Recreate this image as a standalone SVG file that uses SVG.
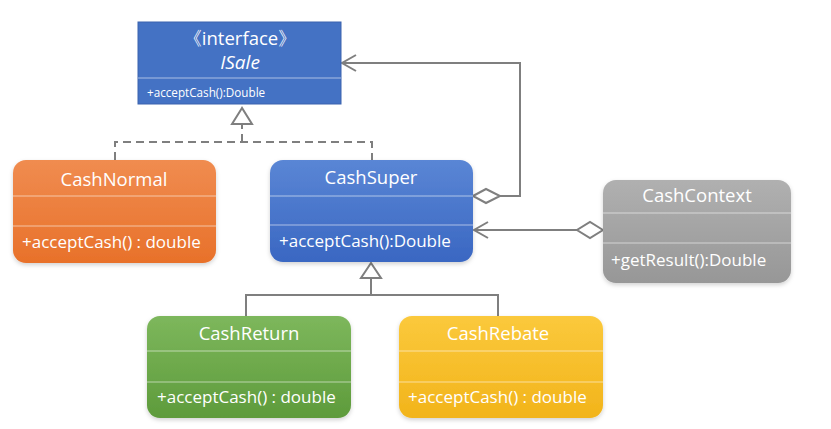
<svg xmlns="http://www.w3.org/2000/svg" width="831" height="429" viewBox="0 0 831 429">
<defs>
<linearGradient id="gBlue" x1="0" y1="0" x2="0" y2="1"><stop offset="0" stop-color="#5A86D5"/><stop offset="1" stop-color="#3A67C2"/></linearGradient>
<linearGradient id="gOrange" x1="0" y1="0" x2="0" y2="1"><stop offset="0" stop-color="#F08C50"/><stop offset="1" stop-color="#E8712A"/></linearGradient>
<linearGradient id="gGray" x1="0" y1="0" x2="0" y2="1"><stop offset="0" stop-color="#B0B0B0"/><stop offset="1" stop-color="#979797"/></linearGradient>
<linearGradient id="gGreen" x1="0" y1="0" x2="0" y2="1"><stop offset="0" stop-color="#7DB75C"/><stop offset="1" stop-color="#5E9B3B"/></linearGradient>
<linearGradient id="gYellow" x1="0" y1="0" x2="0" y2="1"><stop offset="0" stop-color="#FBC93C"/><stop offset="1" stop-color="#F2B41B"/></linearGradient>
<filter id="sh" x="-10%" y="-10%" width="120%" height="130%"><feDropShadow dx="0" dy="2" stdDeviation="2" flood-color="#000" flood-opacity="0.18"/></filter>
</defs>
<style>
text{font-family:"Open Sans","Noto Sans","Liberation Sans",sans-serif;fill:#fff}
.title{font-size:18.5px;text-anchor:middle}
.meth{font-size:17px}
.div{stroke:#fff;stroke-opacity:0.55;stroke-width:1}
.con{fill:none;stroke:#7F7F7F;stroke-width:2}
.dash{stroke-dasharray:8 5}
.head{fill:#fff;stroke:#7F7F7F;stroke-width:2}
</style>
<rect width="831" height="429" fill="#fff"/>
<g id="connectors">
<polyline class="con dash" points="115,160 115,142 372,142 372,160"/>
<line class="con dash" x1="242" y1="142" x2="242" y2="124"/>
<polygon class="head" points="242,108 232,124 252,124"/>
<polyline class="con" points="500,196 520,196 520,63 342,63"/>
<polyline class="con" points="356,55 342,63 356,71"/>
<polygon class="head" points="473,196 486,189 500,196 486,203"/>
<line class="con" x1="577" y1="230" x2="474" y2="230"/>
<polyline class="con" points="488,222 474,230 488,238"/>
<polygon class="head" points="603,230 590,222 577,230 590,238"/>
<polyline class="con" points="246,316 246,295 498,295 498,316"/>
<line class="con" x1="371" y1="295" x2="371" y2="278"/>
<polygon class="head" points="371,263 361,278 381,278"/>
</g>
<g id="ISale">
<rect x="138" y="22" width="203" height="82" fill="#4472C4" stroke="#3A63AE" stroke-width="1"/>
<line class="div" x1="138" y1="78" x2="341" y2="78"/>
<text x="240" y="45" style="font-size:18.5px;text-anchor:middle">《interface》</text>
<text x="240" y="69" style="font-size:19px;text-anchor:middle;font-style:italic">ISale</text>
<text x="147" y="97" style="font-size:11.7px">+acceptCash():Double</text>
</g>
<g id="CashNormal">
<rect x="13" y="160" width="203" height="103" rx="13" fill="url(#gOrange)" filter="url(#sh)"/>
<line class="div" x1="13" y1="196" x2="216" y2="196"/>
<line class="div" x1="13" y1="226" x2="216" y2="226"/>
<text class="title" x="114" y="186">CashNormal</text>
<text class="meth" x="22" y="248">+acceptCash() : double</text>
</g>
<g id="CashSuper">
<rect x="270" y="160" width="203" height="102" rx="13" fill="url(#gBlue)" filter="url(#sh)"/>
<line class="div" x1="270" y1="196" x2="473" y2="196"/>
<line class="div" x1="270" y1="225" x2="473" y2="225"/>
<text class="title" x="371" y="184">CashSuper</text>
<text class="meth" x="279" y="247">+acceptCash():Double</text>
</g>
<g id="CashContext">
<rect x="603" y="180" width="188" height="103" rx="13" fill="url(#gGray)" filter="url(#sh)"/>
<line class="div" x1="603" y1="213" x2="791" y2="213"/>
<line class="div" x1="603" y1="243" x2="791" y2="243"/>
<text class="title" x="697" y="202">CashContext</text>
<text class="meth" x="611" y="266">+getResult():Double</text>
</g>
<g id="CashReturn">
<rect x="147" y="316" width="204" height="102" rx="13" fill="url(#gGreen)" filter="url(#sh)"/>
<line class="div" x1="147" y1="351" x2="351" y2="351"/>
<line class="div" x1="147" y1="382" x2="351" y2="382"/>
<text class="title" x="249" y="340">CashReturn</text>
<text class="meth" x="157" y="403">+acceptCash() : double</text>
</g>
<g id="CashRebate">
<rect x="399" y="316" width="204" height="102" rx="13" fill="url(#gYellow)" filter="url(#sh)"/>
<line class="div" x1="399" y1="351" x2="603" y2="351"/>
<line class="div" x1="399" y1="382" x2="603" y2="382"/>
<text class="title" x="498" y="340">CashRebate</text>
<text class="meth" x="408" y="403">+acceptCash() : double</text>
</g>
</svg>
